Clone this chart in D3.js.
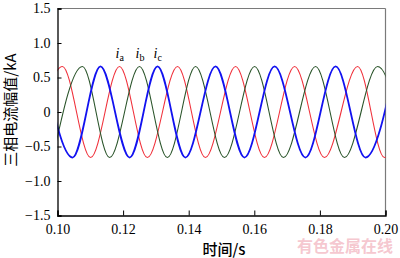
<!DOCTYPE html>
<html lang="zh">
<head>
<meta charset="UTF-8">
<title>三相电流幅值</title>
<script src="https://d3js.org/d3.v7.min.js"></script>
<style>
  body { margin: 0; background: #fff; }
  svg { display: block; }
</style>
</head>
<body>
<svg id="chart" width="400" height="258"></svg>
<script>
// extrema of each phase current: [time s, current kA]
var iaPts = [[0.0925, -0.66], [0.1015, 0.66], [0.1101, -0.66], [0.1189, 0.66], [0.1274, -0.66],
  [0.1366, 0.66], [0.1451, -0.66], [0.1543, 0.66], [0.1631, -0.66], [0.1723, 0.66],
  [0.1814, -0.66], [0.1915, 0.66], [0.1997, -0.66], [0.2085, 0.66]];
var ibPts = [[0.0986, -0.66], [0.1076, 0.66], [0.1159, -0.66], [0.1250, 0.66], [0.1335, -0.66],
  [0.1421, 0.66], [0.1509, -0.66], [0.1601, 0.66], [0.1689, -0.66], [0.1787, 0.66],
  [0.1875, -0.66], [0.1976, 0.66], [0.2066, -0.66]];
var icPts = [[0.0958, 0.66], [0.1046, -0.66], [0.1131, 0.66], [0.1220, -0.66], [0.1305, 0.66],
  [0.1390, -0.66], [0.1482, 0.66], [0.1570, -0.66], [0.1662, 0.66], [0.1756, -0.66],
  [0.1848, 0.66], [0.1939, -0.66], [0.2029, 0.66]];

var seriesNames = ["a", "b", "c"];
var seriesColors = ["#f0323c", "#2b552b", "#1212f0"];
var labelTimes = [0.1189, 0.1250, 0.1305];   // peaks the i_a, i_b, i_c labels sit over

var xTicks = [0.10, 0.12, 0.14, 0.16, 0.18, 0.20];
var xTickLabels = ["0.10", "0.12", "0.14", "0.16", "0.18", "0.20"];
var yTicks = [-1.5, -1.0, -0.5, 0, 0.5, 1.0, 1.5];
var yTickLabels = ["\u22121.5", "\u22121.0", "\u22120.5", "0", "0.5", "1.0", "1.5"];

var serif = "'Liberation Serif', 'Times New Roman', serif";
var cjk = "'Noto Sans CJK SC', sans-serif";

var svg = d3.select("#chart");
var x = d3.scaleLinear().domain([0.10, 0.20]).range([57.5, 385.5]);
var y = d3.scaleLinear().domain([-1.5, 1.5]).range([215.5, 8.5]);

svg.append("defs").append("clipPath").attr("id", "plotClip")
  .append("rect").attr("x", x(0.10)).attr("y", y(1.5))
  .attr("width", x(0.20) - x(0.10)).attr("height", y(-1.5) - y(1.5));

// watermark sits behind everything
svg.append("text").attr("x", 345).attr("y", 252).attr("text-anchor", "middle")
  .attr("font-family", cjk).attr("font-size", 16).attr("font-weight", 700)
  .attr("fill", "#f3b9c3").attr("fill-opacity", 0.8)
  .text("有色金属在线");

// top and right frame in grey
svg.append("line").attr("x1", x(0.10)).attr("x2", x(0.20)).attr("y1", y(1.5)).attr("y2", y(1.5))
  .attr("stroke", "#7a7a7a").attr("stroke-width", 1.2);
svg.append("line").attr("x1", x(0.20)).attr("x2", x(0.20)).attr("y1", y(1.5)).attr("y2", y(-1.5))
  .attr("stroke", "#7a7a7a").attr("stroke-width", 1.2);

// curves
var line = d3.line().x(d => x(d[0])).y(d => y(d[1])).curve(d3.curveMonotoneX);
var gLines = svg.append("g").attr("clip-path", "url(#plotClip)");
[iaPts, ibPts, icPts].forEach(function(pts, i) {
  gLines.append("path").datum(pts)
    .attr("fill", "none")
    .attr("stroke", seriesColors[i])
    .attr("stroke-width", i === 2 ? 1.8 : 1.1)
    .attr("d", line);
});

// axes
var xAxis = d3.axisBottom(x).tickValues(xTicks).tickSize(-5).tickPadding(9)
  .tickFormat((d, i) => xTickLabels[i]);
var gx = svg.append("g").attr("transform", "translate(0," + y(-1.5) + ")").call(xAxis);
gx.select(".domain").attr("stroke", "#000").attr("stroke-width", 1.3);
gx.selectAll(".tick line").attr("stroke", "#000");
gx.selectAll(".tick text").attr("font-family", serif).attr("font-size", 14).attr("fill", "#000");

var yAxis = d3.axisLeft(y).tickValues(yTicks).tickSize(-4).tickPadding(7)
  .tickFormat((d, i) => yTickLabels[i]);
var gy = svg.append("g").attr("transform", "translate(" + x(0.10) + ",0)").call(yAxis);
gy.select(".domain").attr("stroke", "#000").attr("stroke-width", 1.3);
gy.selectAll(".tick line").attr("stroke", "#000");
gy.selectAll(".tick text").attr("font-family", serif).attr("font-size", 14).attr("fill", "#000");

// phase labels
seriesNames.forEach(function(n, i) {
  var t = svg.append("text")
    .attr("x", x(labelTimes[i]) - 4).attr("y", 58)
    .attr("font-family", serif).attr("font-size", 14);
  t.append("tspan").attr("font-style", "italic").text("i");
  t.append("tspan").attr("font-size", 10).attr("dy", 3).text(n);
});

// axis titles
svg.append("text").attr("x", 224).attr("y", 255).attr("text-anchor", "middle")
  .attr("font-family", cjk).attr("font-size", 15).attr("font-weight", 500)
  .text("时间/s");
svg.append("text").attr("transform", "translate(16,110) rotate(-90)").attr("text-anchor", "middle")
  .attr("font-family", cjk).attr("font-size", 15)
  .text("三相电流幅值/kA");
</script>
</body>
</html>
